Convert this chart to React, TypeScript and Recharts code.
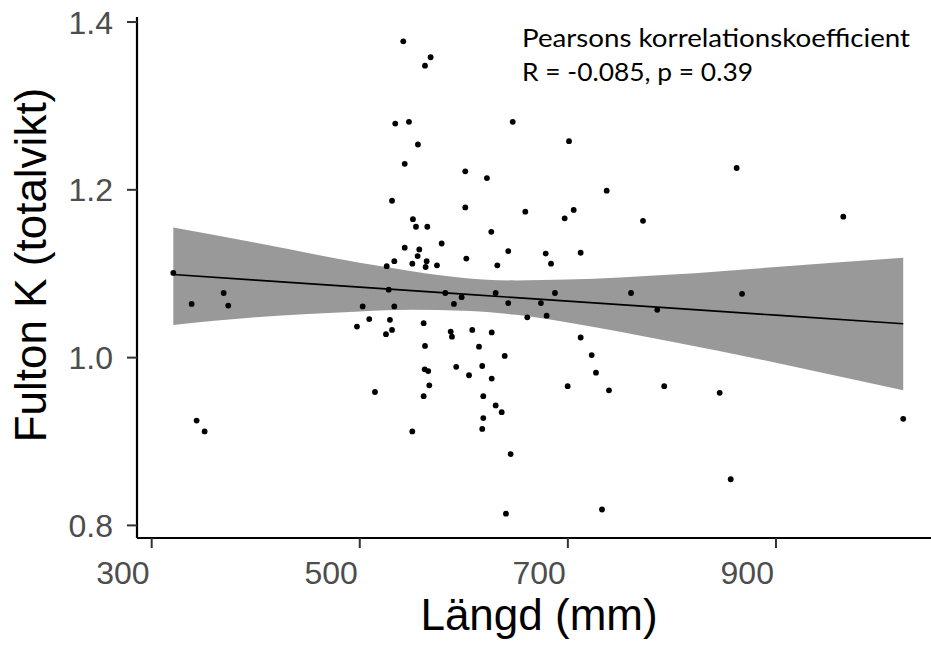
import React from 'react';
import { Area, ComposedChart, Line, Scatter, XAxis, YAxis } from 'recharts';

// Längd (mm) och Fulton K per fisk
const lengthMm = [
  541.8, 568.1, 562.7, 534.1, 547.3, 647, 555.9, 701.1, 543.2, 601.4,
  622.2, 531, 601.4, 659.1, 705.6, 696.9, 551.1, 554, 564.9, 626.4,
  578.7, 543.2, 557.2, 555.6, 533.2, 525.9, 550.5, 564.3, 563.3, 574.2,
  602.4, 642.7, 632.2, 678.7, 683.8, 712.3, 737.3, 772.2, 862.2, 964.7,
  320.8, 338.4, 369.2, 373.6, 502.8, 509.1, 497.3, 514.6, 343.2, 350.9,
  527.8, 533.2, 529, 525.2, 531, 582.2, 597.9, 590.5, 630.6, 642.7,
  674.1, 687.6, 661, 679.6, 561.4, 587.4, 588.6, 608.1, 626.8, 562.7,
  614.6, 639.3, 712.3, 722.9, 562.4, 565.8, 592.7, 617.7, 605, 626.8,
  566.8, 561.4, 618.7, 699.8, 630.6, 636.4, 618.7, 617.7, 550.5, 645,
  640.5, 760.7, 867.4, 785.9, 727, 739.5, 792.6, 845.9, 1022.3, 856.5,
  732.8,
];
const fultonK = [
  1.377, 1.358, 1.348, 1.279, 1.281, 1.281, 1.254, 1.258, 1.231, 1.222,
  1.214, 1.187, 1.179, 1.174, 1.176, 1.166, 1.165, 1.156, 1.156, 1.15,
  1.136, 1.131, 1.129, 1.121, 1.115, 1.109, 1.112, 1.115, 1.108, 1.11,
  1.118, 1.127, 1.11, 1.124, 1.112, 1.125, 1.199, 1.163, 1.226, 1.168,
  1.101, 1.064, 1.077, 1.062, 1.061, 1.046, 1.037, 0.959, 0.925, 0.912,
  1.081, 1.061, 1.045, 1.028, 1.033, 1.077, 1.072, 1.064, 1.077, 1.065,
  1.065, 1.077, 1.048, 1.05, 1.041, 1.031, 1.025, 1.033, 1.03, 1.014,
  1.013, 1.002, 1.024, 1.003, 0.986, 0.984, 0.989, 0.99, 0.979, 0.975,
  0.967, 0.954, 0.954, 0.966, 0.943, 0.935, 0.928, 0.915, 0.912, 0.885,
  0.814, 1.077, 1.076, 1.057, 0.982, 0.961, 0.966, 0.958, 0.927, 0.855,
  0.819,
];

// regressionslinje med konfidensband
const fitX = [320.8, 400, 500, 550, 600, 650, 700, 800, 900, 1022.3];
const fitY = [1.099, 1.0924, 1.084, 1.0799, 1.0757, 1.0715, 1.0673, 1.059, 1.0506, 1.0404];
const ciLow = [1.039, 1.048, 1.055, 1.057, 1.056, 1.051, 1.042, 1.019, 0.994, 0.961];
const ciHigh = [1.155, 1.137, 1.113, 1.103, 1.095, 1.092, 1.093, 1.099, 1.108, 1.119];

const xTicks = [300, 500, 700, 900];
const yTicks = [0.8, 1.0, 1.2, 1.4];

const points = lengthMm.map((x, i) => ({ x, y: fultonK[i] }));
const band = fitX.map((x, i) => ({ x, fit: fitY[i], ci: [ciLow[i], ciHigh[i]] }));

const arial = '"Liberation Sans", Arial, sans-serif';

const XTick = ({ x, y, payload }: any) => (
  <text x={x - 2} y={y + 32} textAnchor="end" fill="#4D4D4D" fontSize={32} fontFamily={arial}>
    {payload.value}
  </text>
);

const YTick = ({ x, y, payload }: any) => (
  <text x={x} y={y} dy="0.36em" textAnchor="end" fill="#4D4D4D" fontSize={32} fontFamily={arial}>
    {Number(payload.value).toFixed(1)}
  </text>
);

const XTitle = () => (
  <text x={539} y={630} textAnchor="middle" fill="#000" fontSize={44} fontFamily={arial}>
    Längd (mm)
  </text>
);

const YTitle = () => (
  <g>
    <text transform="translate(46,265) rotate(-90)" textAnchor="middle" fill="#000" fontSize={44} fontFamily={arial}>
      Fulton K (totalvikt)
    </text>
    <text x={522} y={47} fill="#000" fontSize={25} fontFamily="Lato, sans-serif" textLength={388} lengthAdjust="spacingAndGlyphs">
      Pearsons korrelationskoefficient
    </text>
    <text x={522} y={81} fill="#000" fontSize={25} fontFamily="Lato, sans-serif" textLength={231} lengthAdjust="spacingAndGlyphs">
      R = -0.085, p = 0.39
    </text>
  </g>
);

const Dot = (p: any) => <circle cx={p.cx} cy={p.cy} r={2.9} fill="#000" />;

export default function App() {
  return (
    <div style={{ position: 'absolute', left: 0, top: 0, width: 931, height: 647, background: '#fff' }}>
      <ComposedChart width={931} height={647} data={band} margin={{ top: 17, right: 0, bottom: 0, left: 0 }}>
        <XAxis
          type="number"
          dataKey="x"
          domain={[285.9, 1049]}
          ticks={xTicks}
          allowDataOverflow
          height={109}
          tickSize={10}
          tickMargin={4}
          axisLine={{ stroke: '#000', strokeWidth: 2.2 }}
          tickLine={{ stroke: '#333', strokeWidth: 2 }}
          tick={XTick}
          label={<XTitle />}
        />
        <YAxis
          type="number"
          domain={[0.785, 1.406]}
          ticks={yTicks}
          allowDataOverflow
          width={137}
          tickSize={10}
          tickMargin={14}
          axisLine={{ stroke: '#000', strokeWidth: 2.2 }}
          tickLine={{ stroke: '#333', strokeWidth: 2 }}
          tick={YTick}
          label={<YTitle />}
        />
        <Area dataKey="ci" type="monotone" stroke="none" fill="#999999" fillOpacity={1} isAnimationActive={false} />
        <Line dataKey="fit" type="linear" stroke="#000" strokeWidth={1.6} dot={false} isAnimationActive={false} />
        <Scatter data={points} dataKey="y" shape={Dot} isAnimationActive={false} />
      </ComposedChart>
    </div>
  );
}
